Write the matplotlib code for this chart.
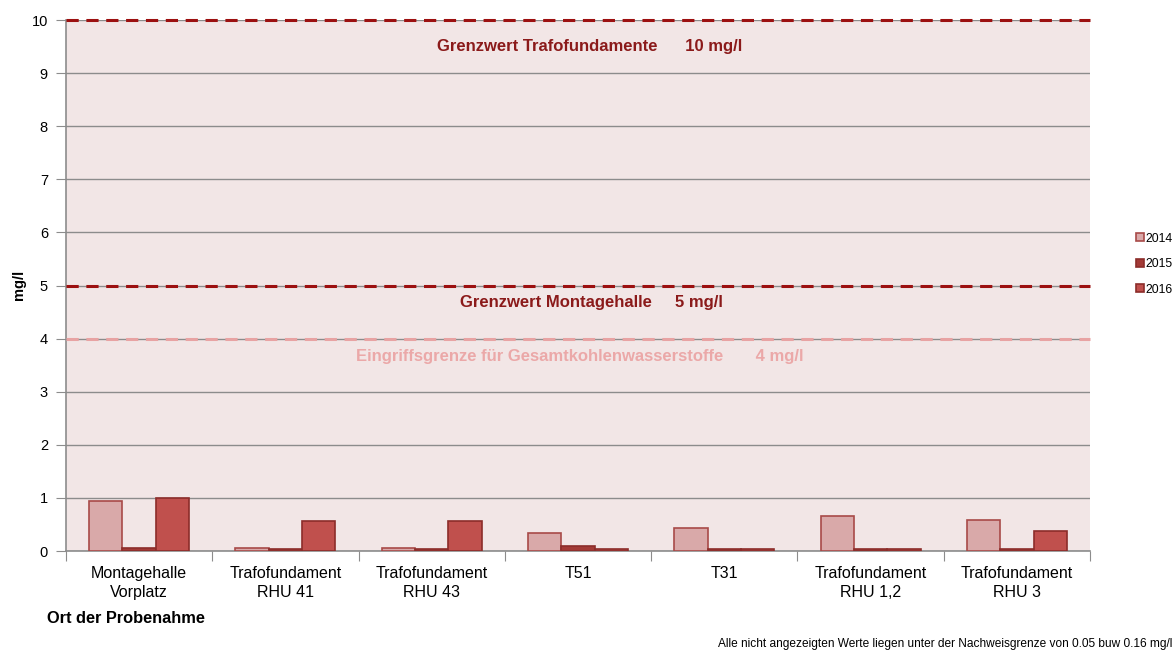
import numpy as np
import matplotlib
matplotlib.use('Agg')
from matplotlib import pyplot as plt

plt.rcParams['font.family'] = ['Liberation Sans', 'DejaVu Sans']

# data
categories = ['Montagehalle\nVorplatz', 'Trafofundament\nRHU 41', 'Trafofundament\nRHU 43',
              'T51', 'T31', 'Trafofundament\nRHU 1,2', 'Trafofundament\nRHU 3']
years = ['2014', '2015', '2016']
values_2014 = [0.94, 0.06, 0.06, 0.34, 0.44, 0.66, 0.59]
values_2015 = [0.06, 0.03, 0.03, 0.10, 0.03, 0.03, 0.03]
values_2016 = [1.00, 0.57, 0.57, 0.04, 0.03, 0.03, 0.38]
limits = [10, 5, 4]
limit_texts = ['Grenzwert Trafofundamente      10 mg/l',
               'Grenzwert Montagehalle     5 mg/l',
               'Eingriffsgrenze für Gesamtkohlenwasserstoffe       4 mg/l']

fig = plt.figure(figsize=(11.76, 6.52), dpi=100)
ax = fig.add_axes([0.0561, 0.1549, 0.8708, 0.8144])
ax.set_facecolor('#f2e6e6')

x = np.arange(len(categories))
w = 0.228
face = ['#d9a9a9', '#a33a36', '#c0504d']
edge = ['#a84a48', '#8c2d2a', '#8c2d2a']
for i, vals in enumerate([values_2014, values_2015, values_2016]):
    ax.bar(x + (i - 1) * w, vals, w, color=face[i], edgecolor=edge[i],
           linewidth=1.2, label=years[i], zorder=3)

ax.set_xlim(-0.5, len(categories) - 0.5)
ax.set_ylim(0, 10)
ax.set_yticks(range(0, 11))
ax.yaxis.grid(True, color='#8c8c8c', linewidth=1.0, zorder=1)
ax.set_axisbelow(True)

ax.set_xticks(np.arange(-0.5, len(categories), 1.0))
ax.set_xticklabels([])
ax.set_xticks(x, minor=True)
ax.set_xticklabels(categories, minor=True, fontsize=11.5, linespacing=1.3)
ax.tick_params(axis='x', which='minor', length=0, pad=11)
ax.tick_params(axis='x', which='major', length=7, color='#8c8c8c')
ax.tick_params(axis='y', length=7, color='#8c8c8c', labelsize=10.5, pad=6)

for s in ['top', 'right']:
    ax.spines[s].set_visible(False)
for s in ['left', 'bottom']:
    ax.spines[s].set_color('#8c8c8c')
    ax.spines[s].set_linewidth(1.2)

# limit lines
line_colors = ['#9c1010', '#9c1010', '#e8a3a3']
text_colors = ['#8b1a1a', '#8b1a1a', '#eba8a8']
text_y = [9.5, 4.68, 3.66]
text_x = [3.08, 3.09, 3.01]
for lim, col, tcol, ty, tx, txt in zip(limits, line_colors, text_colors, text_y, text_x, limit_texts):
    ax.axhline(lim, color=col, linestyle=(0, (4, 2.5)), linewidth=2.2, zorder=4, clip_on=False)
    ax.text(tx, ty, txt, ha='center', va='center', color=tcol, fontsize=12,
            fontweight='bold', zorder=5)

fig.text(0.016, 0.563, 'mg/l', fontsize=10.5, fontweight='bold', rotation=90,
         ha='center', va='center')
fig.text(0.04, 0.052, 'Ort der Probenahme', fontsize=11.8, fontweight='bold', ha='left', va='center')
fig.text(0.997, 0.003, 'Alle nicht angezeigten Werte liegen unter der Nachweisgrenze von 0.05 buw 0.16 mg/l',
         fontsize=8.6, ha='right', va='bottom')

leg = fig.legend(loc='upper left', bbox_to_anchor=(0.957, 0.66), frameon=False, fontsize=8.8,
                 handlelength=0.6, handleheight=0.6, handletextpad=0.1, labelspacing=1.1)

fig.savefig('out.png', dpi=100)
